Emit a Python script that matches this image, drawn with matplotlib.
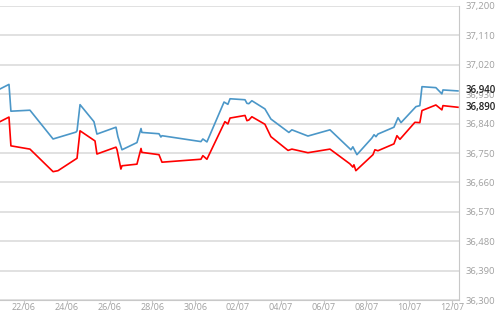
import matplotlib
matplotlib.use("Agg")
import matplotlib.pyplot as plt

# days counted from 22/06
blue_x = [-1.12, -0.70, -0.61, 0.28, 1.36, 2.43, 2.48, 2.62, 3.27, 3.41, 4.30, 4.35, 4.39, 4.58,
          5.28, 5.47, 5.51, 6.31, 6.40, 6.45, 8.27, 8.36, 8.55, 9.35, 9.53, 9.63, 10.33, 10.42,
          10.51, 10.65, 11.26, 11.54, 12.38, 12.52, 13.27, 14.30, 15.28, 15.37, 15.56, 16.26,
          16.36, 16.45, 16.54, 17.29, 17.48, 17.62, 18.32, 18.50, 18.60, 19.25, 19.53, 19.58, 20.28]
blue_y = [36946, 36960, 36878, 36881, 36793, 36814, 36818, 36898, 36846, 36808, 36829, 36813,
          36800, 36760, 36782, 36825, 36813, 36809, 36799, 36803, 36785, 36793, 36784, 36906,
          36899, 36916, 36913, 36902, 36901, 36910, 36885, 36854, 36813, 36821, 36802, 36821,
          36760, 36769, 36745, 36796, 36806, 36800, 36808, 36829, 36858, 36843, 36892, 36895,
          36953, 36950, 36931, 36943, 36940]

red_x = [-1.12, -0.70, -0.61, 0.28, 1.36, 1.59, 2.48, 2.62, 3.32, 3.41, 4.30, 4.35, 4.53, 4.58,
         5.28, 5.47, 5.51, 6.31, 6.45, 8.27, 8.36, 8.55, 9.39, 9.53, 9.63, 10.33, 10.42, 10.51,
         10.65, 11.26, 11.54, 12.34, 12.52, 13.27, 14.30, 15.23, 15.37, 15.42, 15.51, 16.31,
         16.40, 16.54, 17.29, 17.43, 17.57, 18.27, 18.50, 18.60, 19.25, 19.53, 19.58, 20.28]
red_y = [36846, 36860, 36772, 36762, 36693, 36696, 36734, 36818, 36787, 36747, 36768, 36760,
         36701, 36711, 36716, 36764, 36752, 36745, 36722, 36731, 36742, 36731, 36846, 36839,
         36857, 36865, 36849, 36851, 36861, 36838, 36800, 36758, 36762, 36751, 36762, 36717,
         36707, 36714, 36696, 36745, 36760, 36757, 36778, 36803, 36792, 36844, 36843, 36880,
         36897, 36882, 36895, 36890]

x_ticks = [0, 2, 4, 6, 8, 10, 12, 14, 16, 18, 20]
x_labels = ["22/06", "24/06", "26/06", "28/06", "30/06", "02/07", "04/07", "06/07",
            "08/07", "10/07", "12/07"]
y_ticks = [36300, 36390, 36480, 36570, 36660, 36750, 36840, 36930, 37020, 37110, 37200]

plt.rcParams['font.family'] = ['Open Sans', 'DejaVu Sans']

fig = plt.figure(figsize=(5, 3.12), dpi=100)
ax = fig.add_axes([0, 0.038, 0.918, 0.943])

for y in y_ticks:
    ax.axhline(y, color='#d9d9d9', lw=1.1, zorder=1)

ax.plot(blue_x, blue_y, color='#4b97c8', lw=1.2, zorder=3)
ax.plot(red_x, red_y, color='#ff0000', lw=1.2, zorder=3)

ax.set_xlim(-1.12, 20.33)
ax.set_ylim(36300, 37200)

ax.yaxis.tick_right()
ax.set_yticks(y_ticks)
ax.set_yticklabels([f"{v:,}" for v in y_ticks])
ax.tick_params(axis='y', length=0, pad=4.5, labelsize=6.8, labelcolor='#a0a0a0')
ax.set_xticks(x_ticks)
ax.set_xticklabels(x_labels)
ax.tick_params(axis='x', length=3, color='#c8c8c8', pad=-1, labelsize=6.5, labelcolor='#a0a0a0')

for side in ['left', 'top']:
    ax.spines[side].set_visible(False)
ax.spines['right'].set_color('#c8c8c8')
ax.spines['bottom'].set_color('#c8c8c8')

# last values
for vals in (blue_y, red_y):
    ax.annotate(f"{vals[-1]:,}", xy=(1, vals[-1]), xycoords=('axes fraction', 'data'),
                xytext=(4.5, 0), textcoords='offset points', va='center', ha='left',
                fontsize=7, color='#222222', fontweight='semibold')

fig.savefig('out.png', dpi=100)
